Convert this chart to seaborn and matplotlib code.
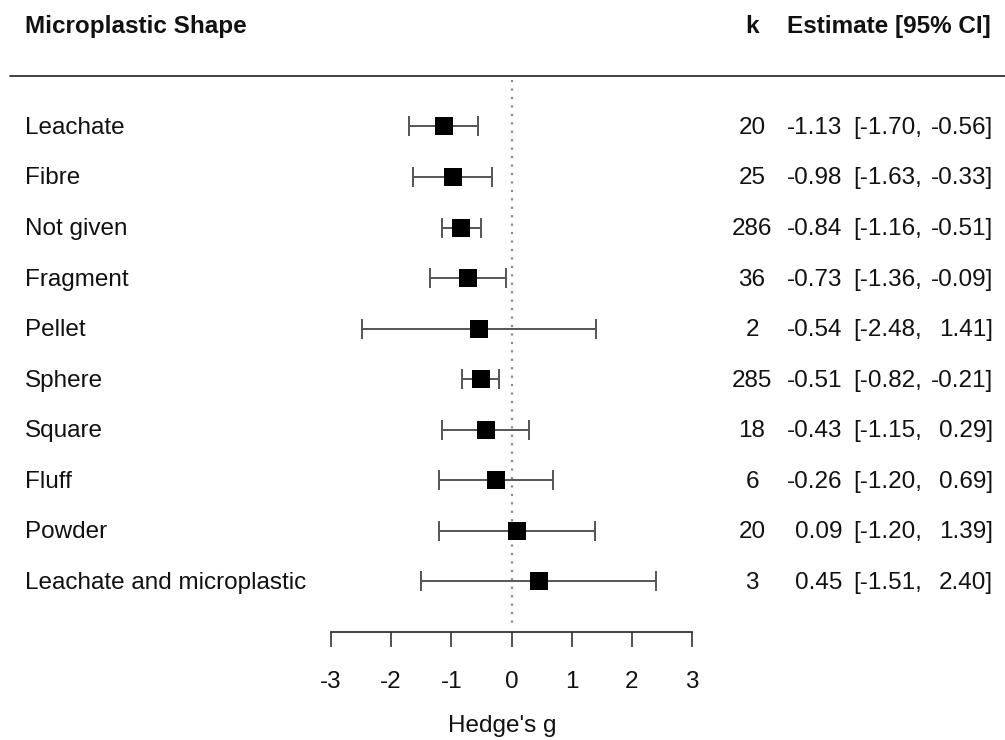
import matplotlib
matplotlib.use("Agg")
import matplotlib.pyplot as plt
import matplotlib.transforms as mtransforms
import seaborn as sns
import pandas as pd

shapes = ["Leachate", "Fibre", "Not given", "Fragment", "Pellet", "Sphere",
          "Square", "Fluff", "Powder", "Leachate and microplastic"]
k_vals = [20, 25, 286, 36, 2, 285, 18, 6, 20, 3]
estimates = [-1.13, -0.98, -0.84, -0.73, -0.54, -0.51, -0.43, -0.26, 0.09, 0.45]
ci_low = [-1.70, -1.63, -1.16, -1.36, -2.48, -0.82, -1.15, -1.20, -1.20, -1.51]
ci_high = [-0.56, -0.33, -0.51, -0.09, 1.41, -0.21, 0.29, 0.69, 1.39, 2.40]
x_ticks = [-3, -2, -1, 0, 1, 2, 3]

sns.set_theme(style="white")
plt.rcParams['font.family'] = ['Liberation Sans', 'DejaVu Sans']
FS = 17.5

df = pd.DataFrame({"shape": shapes, "k": k_vals, "est": estimates,
                   "lo": ci_low, "hi": ci_high})
df["row"] = range(len(df))

fig = plt.figure(figsize=(10.05, 7.4), dpi=100)
ax = fig.add_axes([0, 108 / 740, 1, 632 / 740])

ax.errorbar(df["est"], df["row"],
            xerr=[df["est"] - df["lo"], df["hi"] - df["est"]],
            fmt="none", ecolor="#555555", elinewidth=1.4, capsize=7,
            capthick=1.4, zorder=2)
sns.scatterplot(data=df, x="est", y="row", marker="s", s=150, color="black",
                linewidth=0, ax=ax, zorder=3, legend=False)

# reference line
ax.vlines(0, -0.92, 9.82, colors="#8a8a8a", linestyles=(0, (1, 2.8)),
          linewidth=1.6, zorder=1)

ax.set_xlim(-8.50, 8.20)
ax.set_ylim(10, -2.5)
for s in ["left", "right", "top"]:
    ax.spines[s].set_visible(False)
ax.spines["bottom"].set_bounds(-3, 3)
ax.spines["bottom"].set_color("#333333")
ax.spines["bottom"].set_linewidth(1.3)
ax.set_yticks([])
ax.set_xticks(x_ticks)
ax.set_xticklabels([str(t) for t in x_ticks])
ax.tick_params(axis="x", direction="out", length=11, width=1.2, color="#333333",
               pad=17, labelsize=FS, labelcolor="#111111", bottom=True)
ax.set_xlabel("Hedge's g", fontsize=FS, labelpad=16, color="#111111")
ax.set_ylabel("")

tr = mtransforms.blended_transform_factory(ax.transAxes, ax.transData)

# header
hy = -1.98
ax.text(25 / 1005, hy, "Microplastic Shape", transform=tr, fontsize=FS,
        fontweight="bold", ha="left", va="center", color="#111111")
ax.text(752 / 1005, hy, "k", transform=tr, fontsize=FS,
        fontweight="bold", ha="center", va="center", color="#111111")
ax.text(991 / 1005, hy, "Estimate [95% CI]", transform=tr, fontsize=FS,
        fontweight="bold", ha="right", va="center", color="#111111")
ax.axhline(-1.0, xmin=10 / 1005, xmax=1, color="#333333", linewidth=1.3)

for _, r in df.iterrows():
    y = r["row"] + 0.03
    ax.text(25 / 1005, y, r["shape"], transform=tr, fontsize=FS,
            ha="left", va="center", color="#111111")
    ax.text(752 / 1005, y, str(r["k"]), transform=tr, fontsize=FS,
            ha="center", va="center", color="#111111")
    ax.text(842 / 1005, y, f"{r['est']:.2f}", transform=tr, fontsize=FS,
            ha="right", va="center", color="#111111")
    ax.text(853 / 1005, y, f"[{r['lo']:.2f},", transform=tr, fontsize=FS,
            ha="left", va="center", color="#111111")
    ax.text(993 / 1005, y, f"{r['hi']:.2f}]", transform=tr, fontsize=FS,
            ha="right", va="center", color="#111111")

fig.savefig("out.png", dpi=100)
